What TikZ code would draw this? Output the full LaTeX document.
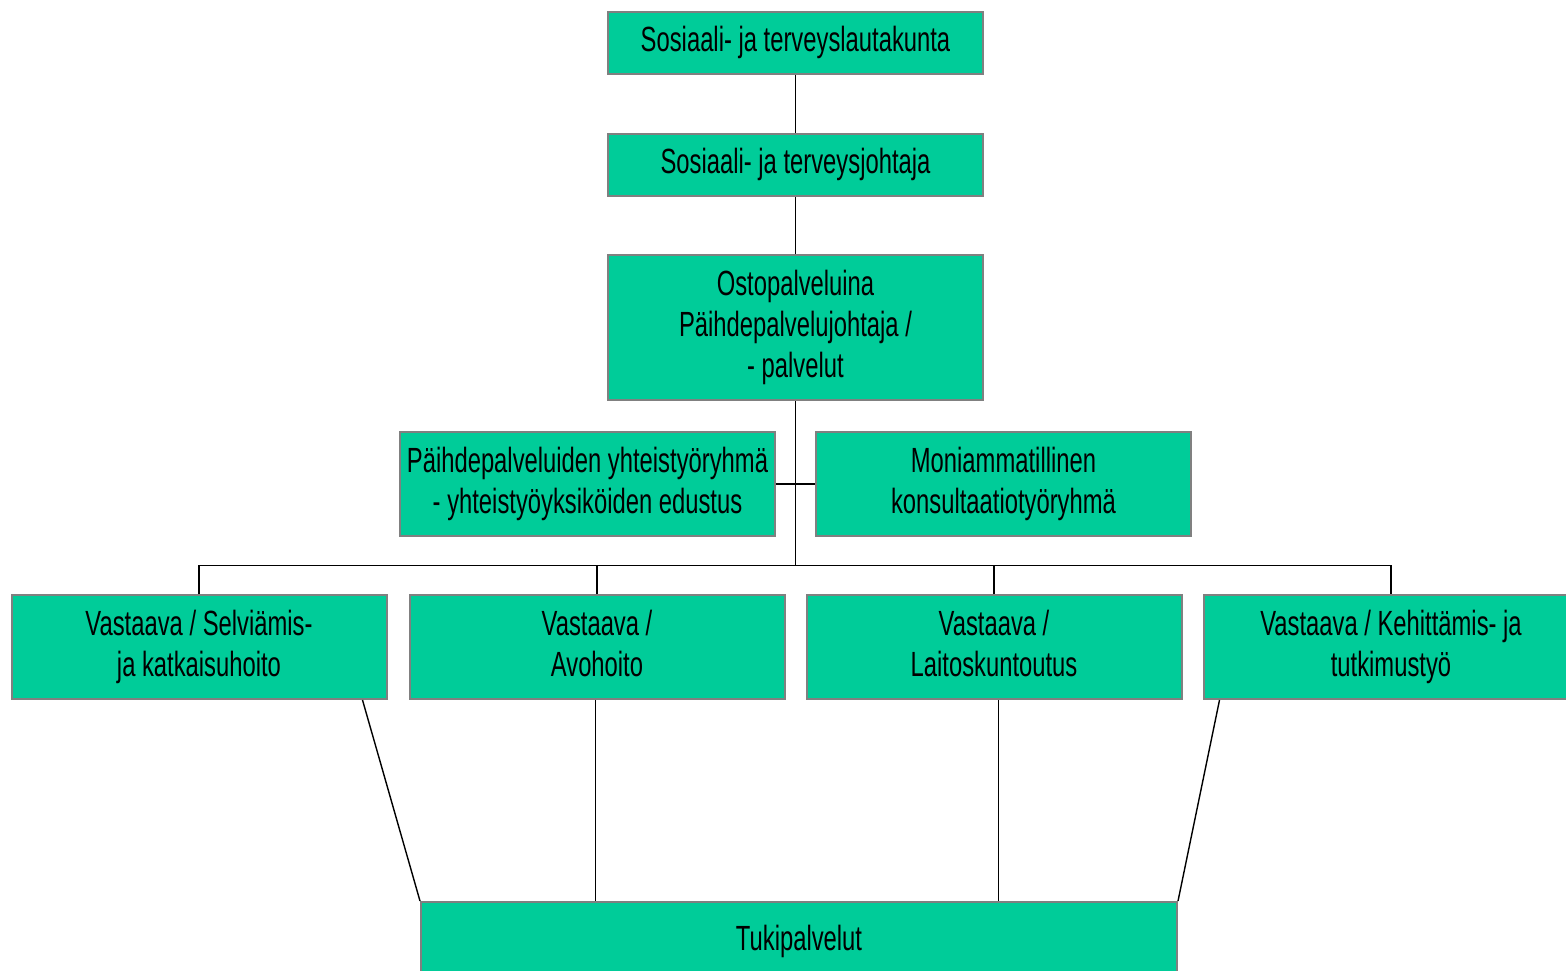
\documentclass[tikz,border=0pt]{standalone}
\usepackage{fontspec}
\setmainfont{Liberation Sans}[FakeStretch=0.68]
\usepackage{tikz}
\usetikzlibrary{positioning}
\definecolor{boxgreen}{RGB}{0,204,153}
\definecolor{boxgray}{RGB}{128,128,128}
\tikzset{
  orgbox/.style={draw=boxgray, line width=1pt, fill=boxgreen, align=center,
    minimum width=187.5pt, minimum height=52pt, inner sep=2pt, text depth=3.7pt,
    font=\fontsize{17.5pt}{20.5pt}\selectfont},
  link/.style={draw=black, line width=0.9pt},
  thinlink/.style={draw=black, line width=0.7pt}
}

\begin{document}
\begin{tikzpicture}
    \useasboundingbox (0,0) rectangle (783pt,-485pt);
    \node[orgbox, minimum height=31pt] (lauta) at (397.75pt,-21.5pt) {Sosiaali- ja terveyslautakunta};
    \node[orgbox, minimum height=31pt, below=29pt of lauta] (johtaja) {Sosiaali- ja terveysjohtaja};
    \node[orgbox, minimum height=72.5pt, below=28.5pt of johtaja] (osto) {Ostopalveluina\\Päihdepalvelujohtaja /\\- palvelut};
    \node[orgbox, below left=15pt and 9.75pt of osto.south] (ryhma) {Päihdepalveluiden yhteistyöryhmä\\- yhteistyöyksiköiden edustus};
    \node[orgbox, below right=15pt and 9.75pt of osto.south] (moni) {Moniammatillinen\\konsultaatiotyöryhmä};
    \coordinate (mid) at (ryhma.south -| osto.south);
    \coordinate[below=14.25pt of mid] (bus);
    \node[orgbox, below left=28.5pt and 5pt of mid] (avo) {Vastaava /\\Avohoito};
    \node[orgbox, left=10.5pt of avo] (selv) {Vastaava / Selviämis-\\ja katkaisuhoito};
    \node[orgbox, below right=28.5pt and 5pt of mid] (lait) {Vastaava /\\Laitoskuntoutus};
    \node[orgbox, right=10pt of lait] (kehi) {Vastaava / Kehittämis- ja\\tutkimustyö};
    \coordinate (low) at (avo.south -| osto.south);
    \node[orgbox, minimum width=378pt, minimum height=39pt, below=100.5pt of low, xshift=1.75pt] (tuki) {Tukipalvelut};

    % Connect the nodes
    \draw[link] (lauta) -- (johtaja) ; %
    \draw[link] (johtaja) -- (osto) ; %
    \draw[link] (osto.south) -- (bus) ; %
    \draw[link] (ryhma.east) -- (moni.west) ; %
    \draw[link] (selv.north) -- (selv.north |- bus) -- (kehi.north |- bus) -- (kehi.north) ; %
    \foreach \n in {avo, lait}
      \draw[link] (\n.north) -- (\n.north |- bus) ; %
    \draw[thinlink] ([xshift=-12.5pt]selv.south east) -- (tuki.north west) ; %
    \draw[thinlink] ([xshift=-0.75pt]avo.south) -- ([xshift=-0.75pt]avo.south |- tuki.north) ; %
    \draw[thinlink] ([xshift=2.25pt]lait.south) -- ([xshift=2.25pt]lait.south |- tuki.north) ; %
    \draw[thinlink] ([xshift=8.5pt]kehi.south west) -- (tuki.north east) ; %
\end{tikzpicture}
\end{document}
